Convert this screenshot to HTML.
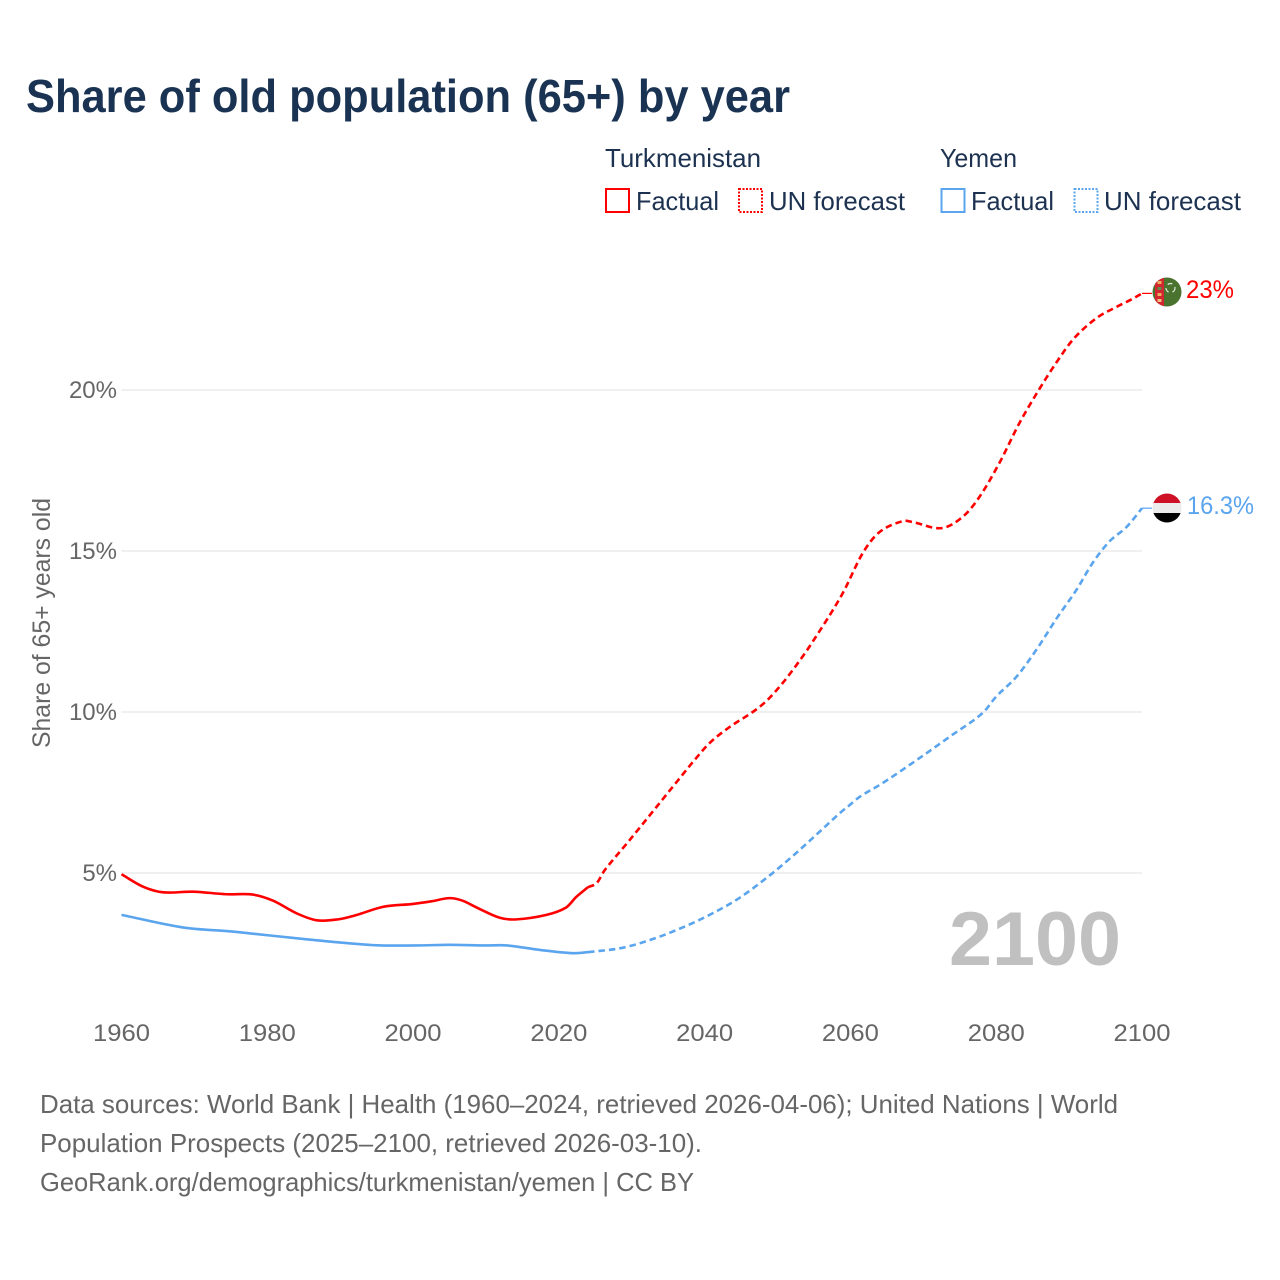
<!DOCTYPE html>
<html lang="en">
<head>
<meta charset="utf-8">
<title>Share of old population (65+) by year</title>
<style>
html,body{margin:0;padding:0;background:#fff;width:1280px;height:1280px;overflow:hidden}
svg{display:block}
text{font-family:"Liberation Sans",sans-serif}
</style>
</head>
<body>
<svg id="chart" xmlns="http://www.w3.org/2000/svg" width="1280" height="1280" viewBox="0 0 1280 1280">
  <rect width="1280" height="1280" fill="#fff"/>
  <text x="26" y="112" font-size="46" font-weight="700" fill="#1a3353" textLength="764" lengthAdjust="spacingAndGlyphs">Share of old population (65+) by year</text>

  <g font-size="26" fill="#1c3250">
    <text x="605" y="167" textLength="156" lengthAdjust="spacingAndGlyphs">Turkmenistan</text>
    <text x="940" y="167" textLength="77" lengthAdjust="spacingAndGlyphs">Yemen</text>
    <rect x="606" y="189" width="23" height="23" fill="none" stroke="#ff0000" stroke-width="2"/>
    <text x="636" y="210" textLength="83" lengthAdjust="spacingAndGlyphs">Factual</text>
    <rect x="739" y="189" width="23" height="23" fill="none" stroke="#ff0000" stroke-width="2" stroke-dasharray="2 1.5"/>
    <text x="769" y="210" textLength="136" lengthAdjust="spacingAndGlyphs">UN forecast</text>
    <rect x="941.500" y="189" width="23" height="23" fill="none" stroke="#5aa5ee" stroke-width="2"/>
    <text x="971" y="210" textLength="83" lengthAdjust="spacingAndGlyphs">Factual</text>
    <rect x="1074.500" y="189" width="23" height="23" fill="none" stroke="#5aa5ee" stroke-width="2" stroke-dasharray="2 1.5"/>
    <text x="1104" y="210" textLength="137" lengthAdjust="spacingAndGlyphs">UN forecast</text>
  </g>

  <g id="grid"></g>
  <g id="yticks"></g>
  <g id="xticks"></g>

  <text transform="translate(50,623) rotate(-90)" text-anchor="middle" font-size="25" fill="#666" textLength="250" lengthAdjust="spacingAndGlyphs">Share of 65+ years old</text>

  <text x="1121" y="965" text-anchor="end" font-size="76" font-weight="700" fill="#c0c0c0" textLength="172" lengthAdjust="spacingAndGlyphs">2100</text>

  <g id="series"></g>

  <defs>
    <clipPath id="clip-tm"><circle cx="1167" cy="292" r="14.5"/></clipPath>
    <clipPath id="clip-ye"><circle cx="1167" cy="508" r="14.5"/></clipPath>
  </defs>
  <g clip-path="url(#clip-tm)">
    <rect x="1152" y="277" width="30" height="30" fill="#4a7330"/>
    <rect x="1155" y="277" width="9" height="30" fill="#d22630"/>
    <rect x="1157.500" y="281" width="4" height="3" fill="#e8b060"/>
    <rect x="1157.500" y="287" width="4" height="3" fill="#5f8a4a"/>
    <rect x="1157.500" y="293" width="4" height="3" fill="#e8b060"/>
    <rect x="1157.500" y="299" width="4" height="3" fill="#f0c080"/>
    <circle cx="1170.500" cy="288" r="4.500" fill="none" stroke="#dfe8d8" stroke-width="1.200" stroke-dasharray="5 4"/>
  </g>
  <g clip-path="url(#clip-ye)">
    <rect x="1152" y="493" width="30" height="10.500" fill="#ce1126"/>
    <rect x="1152" y="503" width="30" height="10" fill="#ececec"/>
    <rect x="1152" y="513" width="30" height="10" fill="#000"/>
  </g>
  <text x="1186" y="298" font-size="25" fill="#ff0000" textLength="48" lengthAdjust="spacingAndGlyphs">23%</text>
  <text x="1187" y="514" font-size="25" fill="#5aa5ee" textLength="67" lengthAdjust="spacingAndGlyphs">16.3%</text>

  <g font-size="26" fill="#666">
    <text x="40" y="1113" textLength="1078" lengthAdjust="spacingAndGlyphs">Data sources: World Bank | Health (1960–2024, retrieved 2026-04-06); United Nations | World</text>
    <text x="40" y="1152" textLength="662" lengthAdjust="spacingAndGlyphs">Population Prospects (2025–2100, retrieved 2026-03-10).</text>
    <text x="40" y="1191" textLength="654" lengthAdjust="spacingAndGlyphs">GeoRank.org/demographics/turkmenistan/yemen | CC BY</text>
  </g>
</svg>
<script>
const yTickValues = [5, 10, 15, 20];
const xTickValues = [1960, 1980, 2000, 2020, 2040, 2060, 2080, 2100];

const tmFactualYears = [1960,1963,1965.7,1969.8,1974.4,1978,1980.8,1984,1986.8,1989.7,1992.3,1995.9,2000,2002.5,2005,2006.8,2008.7,2011.9,2014.2,2018.3,2021,2022.4,2024];
const tmFactualValues = [4.96,4.57,4.40,4.42,4.34,4.33,4.14,3.75,3.53,3.56,3.70,3.95,4.04,4.12,4.22,4.14,3.93,3.61,3.56,3.70,3.93,4.26,4.56];
const tmForecastYears = [2024,2025.2,2026.3,2029.7,2033.6,2036.6,2038.4,2040.7,2043.4,2046.6,2048.6,2050.7,2052.6,2054.7,2058.8,2061.7,2064,2067.2,2068.5,2072.5,2075.4,2077.7,2080.5,2083.2,2086,2088.3,2090.7,2093.8,2096.5,2098.7,2100];
const tmForecastValues = [4.56,4.69,5.09,6.02,7.11,7.95,8.45,9.04,9.53,10.0,10.37,10.9,11.46,12.14,13.63,14.94,15.59,15.93,15.9,15.71,16.06,16.68,17.76,18.98,20.06,20.87,21.61,22.24,22.58,22.83,23.0];

const yeFactualYears = [1960,1968.4,1975.3,1985.4,1994.5,2000.5,2005,2010,2012.9,2017.4,2021.9,2024];
const yeFactualValues = [3.70,3.31,3.18,2.94,2.76,2.75,2.77,2.75,2.75,2.61,2.51,2.54];
const yeForecastYears = [2024,2028.8,2033.4,2037.5,2041.1,2044.8,2048.9,2052.1,2054.8,2058.5,2059.9,2061.3,2064.4,2069.1,2073.6,2078.1,2080,2082.8,2085.5,2088.3,2091,2093.2,2095.5,2097.9,2100];
const yeForecastValues = [2.54,2.68,2.99,3.36,3.75,4.23,4.92,5.53,6.08,6.85,7.11,7.37,7.79,8.51,9.23,9.96,10.48,11.1,11.93,12.91,13.79,14.62,15.29,15.75,16.33];

const NS = 'http://www.w3.org/2000/svg';
const RED = '#ff0000';
const BLUE = '#5aa5ee';
function xScale(year) { return 121.5 + (year - 1960) * (1142 - 121.5) / 140; }
function yScale(value) { return 873 - (value - 5) * 32.2; }

function smoothPath(years, values) {
  const p = years.map((yr, i) => [xScale(yr), yScale(values[i])]);
  const slopes = p.map((pt, i) => {
    const a = p[Math.max(i - 1, 0)], b = p[Math.min(i + 1, p.length - 1)];
    return (b[1] - a[1]) / (b[0] - a[0]);
  });
  let d = 'M' + p[0][0].toFixed(2) + ' ' + p[0][1].toFixed(2);
  for (let i = 0; i < p.length - 1; i++) {
    const b = p[i], c = p[i + 1], h = (c[0] - b[0]) / 3;
    d += 'C' + (b[0] + h).toFixed(2) + ' ' + (b[1] + slopes[i] * h).toFixed(2) + ' ' + (c[0] - h).toFixed(2) + ' ' + (c[1] - slopes[i + 1] * h).toFixed(2) + ' ' + c[0].toFixed(2) + ' ' + c[1].toFixed(2);
  }
  return d;
}

const gridGroup = document.getElementById('grid');
const yGroup = document.getElementById('yticks');
yTickValues.forEach(function (v) {
  const line = document.createElementNS(NS, 'line');
  
  
  line.setAttribute('x1', xScale(1960));
  line.setAttribute('x2', xScale(2100));
  line.setAttribute('y1', yScale(v));
  line.setAttribute('y2', yScale(v));
  line.setAttribute('stroke', '#ececec');
  line.setAttribute('stroke-width', '1.5');
  gridGroup.appendChild(line);
  const label = document.createElementNS(NS, 'text');
  
  
  label.setAttribute('x', 117);
  label.setAttribute('y', yScale(v) + 8);
  label.setAttribute('text-anchor', 'end');
  label.setAttribute('font-size', '24');
  label.setAttribute('fill', '#666');
  label.textContent = v + '%';
  yGroup.appendChild(label);
});

const xGroup = document.getElementById('xticks');
xTickValues.forEach(function (t) {
  const label = document.createElementNS(NS, 'text');
  
  
  label.setAttribute('x', xScale(t));
  label.setAttribute('y', 1041);
  label.setAttribute('text-anchor', 'middle');
  label.setAttribute('font-size', '24.5');
  label.setAttribute('fill', '#666');
  label.setAttribute('textLength', '57');
  label.setAttribute('lengthAdjust', 'spacingAndGlyphs');
  label.textContent = t;
  xGroup.appendChild(label);
});

const seriesGroup = document.getElementById('series');
function addLine(name, years, values, color, dashed) {
  const path = document.createElementNS(NS, 'path');
  
  
  path.setAttribute('d', smoothPath(years, values));
  path.setAttribute('fill', 'none');
  path.setAttribute('stroke', color);
  path.setAttribute('stroke-width', '2.6');
  if (dashed) path.setAttribute('stroke-dasharray', '6.5 4');
  seriesGroup.appendChild(path);
}
function addLeader(name, value, color) {
  const line = document.createElementNS(NS, 'line');
  
  
  line.setAttribute('x1', xScale(2100));
  line.setAttribute('x2', xScale(2100) + 10);
  line.setAttribute('y1', yScale(value));
  line.setAttribute('y2', yScale(value));
  line.setAttribute('stroke', color);
  line.setAttribute('stroke-width', '1.2');
  seriesGroup.appendChild(line);
}
addLine('line-yemen-forecast', yeForecastYears, yeForecastValues, BLUE, true);
addLine('line-yemen-factual', yeFactualYears, yeFactualValues, BLUE, false);
addLine('line-turkmenistan-forecast', tmForecastYears, tmForecastValues, RED, true);
addLine('line-turkmenistan-factual', tmFactualYears, tmFactualValues, RED, false);
addLeader('leader-turkmenistan', tmForecastValues[tmForecastValues.length - 1], RED);
addLeader('leader-yemen', yeForecastValues[yeForecastValues.length - 1], BLUE);
</script>
</body>
</html>
